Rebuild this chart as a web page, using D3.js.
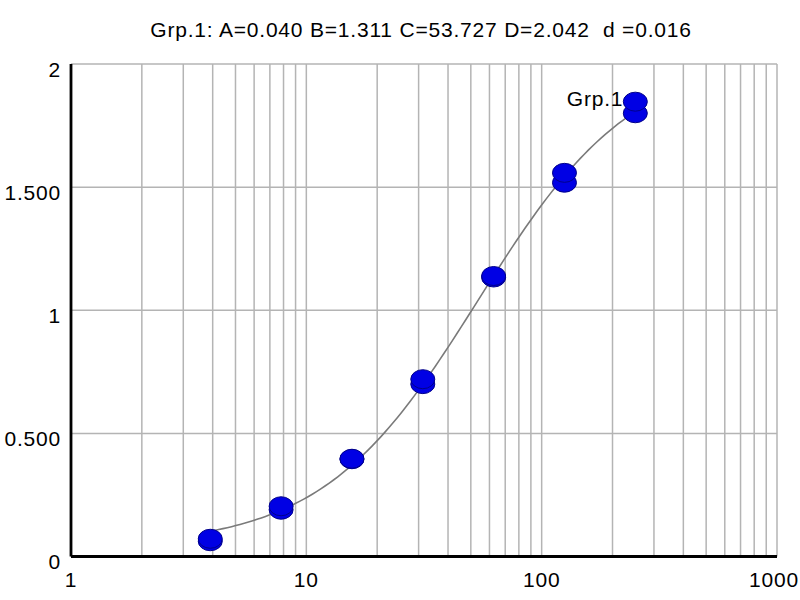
<!DOCTYPE html>
<html>
<head>
<meta charset="utf-8">
<script src="https://cdn.jsdelivr.net/npm/d3@7"></script>
<style>
  body { margin: 0; background: #fff; }
  svg text { font-family: "Liberation Sans", Arial, sans-serif; font-size: 21px; letter-spacing: 0.8px; fill: #000; }
</style>
</head>
<body>
<svg id="chart" width="800" height="600"></svg>
<script>
// doses (serial dilution) and the two replicate readings
var doses = [3.906, 7.813, 15.625, 31.25, 62.5, 125, 250];
var rep1 = [0.062, 0.190, 0.395, 0.700, 1.133, 1.518, 1.800];
var rep2 = [0.072, 0.204, 0.397, 0.720, 1.139, 1.558, 1.847];

// fitted 4PL parameters shown in the title
var fitA = 0.040, fitB = 1.311, fitC = 53.727, fitD = 2.042, fitd = 0.016;

var xTicks = [1, 10, 100, 1000];
var xTickLabels = ['1', '10', '100', '1000'];
var yTicks = [0, 0.5, 1, 1.5, 2];
var yTickLabels = ['0', '0.500', '1', '1.500', '2'];

var width = 800, height = 600;
var margin = { top: 64, right: 23, bottom: 43.5, left: 71 };

var svg = d3.select('#chart');

var x = d3.scaleLog()
  .domain([1, 1000])
  .range([margin.left, width - margin.right]);

var y = d3.scaleLinear()
  .domain([0, 2])
  .range([height - margin.bottom, margin.top]);

// minor log grid 1..9 in every decade
var gridX = [];
[1, 10, 100].forEach(function(dec){
  for (var i = 1; i <= 9; i++) gridX.push(dec * i);
});
gridX.push(1000);

svg.append('g')
  .selectAll('line')
  .data(gridX)
  .enter()
  .append('line')
  .attr('x1', function(d){ return x(d); })
  .attr('x2', function(d){ return x(d); })
  .attr('y1', y(0))
  .attr('y2', y(2))
  .attr('stroke', '#b4b4b4')
  .attr('stroke-width', 1.5);

svg.append('g')
  .selectAll('line')
  .data(yTicks.slice(1))
  .enter()
  .append('line')
  .attr('x1', x(1))
  .attr('x2', x(1000))
  .attr('y1', function(d){ return y(d); })
  .attr('y2', function(d){ return y(d); })
  .attr('stroke', '#b4b4b4')
  .attr('stroke-width', 1.5);

// axis lines
svg.append('line')
  .attr('x1', x(1)).attr('x2', x(1))
  .attr('y1', y(2)).attr('y2', y(0))
  .attr('stroke', '#000').attr('stroke-width', 2.8);
svg.append('line')
  .attr('x1', x(1)).attr('x2', x(1000))
  .attr('y1', y(0)).attr('y2', y(0))
  .attr('stroke', '#000').attr('stroke-width', 2.8);

// tick labels
svg.append('g')
  .selectAll('text')
  .data(yTicks)
  .enter()
  .append('text')
  .attr('x', 61)
  .attr('y', function(d){ return y(d) + 12.5; })
  .attr('text-anchor', 'end')
  .text(function(d, i){ return yTickLabels[i]; });

// last label would run past the right edge, so pin it to the edge
svg.append('g')
  .selectAll('text')
  .data(xTicks)
  .enter()
  .append('text')
  .attr('x', function(d, i){ return i === xTicks.length - 1 ? width - 1 : x(d); })
  .attr('y', 587)
  .attr('text-anchor', function(d, i){ return i === xTicks.length - 1 ? 'end' : 'middle'; })
  .text(function(d, i){ return xTickLabels[i]; });

// title
svg.append('text')
  .attr('x', 421)
  .attr('y', 37)
  .attr('text-anchor', 'middle')
  .attr('xml:space', 'preserve')
  .text('Grp.1: A=' + fitA.toFixed(3) + ' B=' + fitB.toFixed(3) + ' C=' + fitC.toFixed(3) +
        ' D=' + fitD.toFixed(3) + '  d =' + fitd.toFixed(3));

// fitted curve
function fourPL(c){
  return fitD + (fitA - fitD) / (1 + Math.pow(c / fitC, fitB));
}
var lo = Math.log10(doses[0]), hi = Math.log10(doses[doses.length - 1]);
var curveX = d3.range(0, 101).map(function(i){ return Math.pow(10, lo + (hi - lo) * i / 100); });

var line = d3.line()
  .x(function(d){ return x(d); })
  .y(function(d){ return y(fourPL(d)); });

svg.append('path')
  .datum(curveX)
  .attr('d', line)
  .attr('fill', 'none')
  .attr('stroke', '#7a7a7a')
  .attr('stroke-width', 1.6);

// replicate points
var pts = [];
doses.forEach(function(d, i){
  pts.push({ dose: d, value: rep1[i] });
  pts.push({ dose: d, value: rep2[i] });
});

svg.append('g')
  .selectAll('ellipse')
  .data(pts)
  .enter()
  .append('ellipse')
  .attr('cx', function(d){ return x(d.dose); })
  .attr('cy', function(d){ return y(d.value); })
  .attr('rx', 12)
  .attr('ry', 9.5)
  .attr('fill', '#0000e4')
  .attr('stroke', '#00008a')
  .attr('stroke-width', 1);

// group label next to the last point
var lastDose = doses[doses.length - 1];
svg.append('text')
  .attr('x', x(lastDose) - 12)
  .attr('y', y(d3.max([rep1[rep1.length - 1], rep2[rep2.length - 1]])) + 4)
  .attr('text-anchor', 'end')
  .text('Grp.1');
</script>
</body>
</html>
